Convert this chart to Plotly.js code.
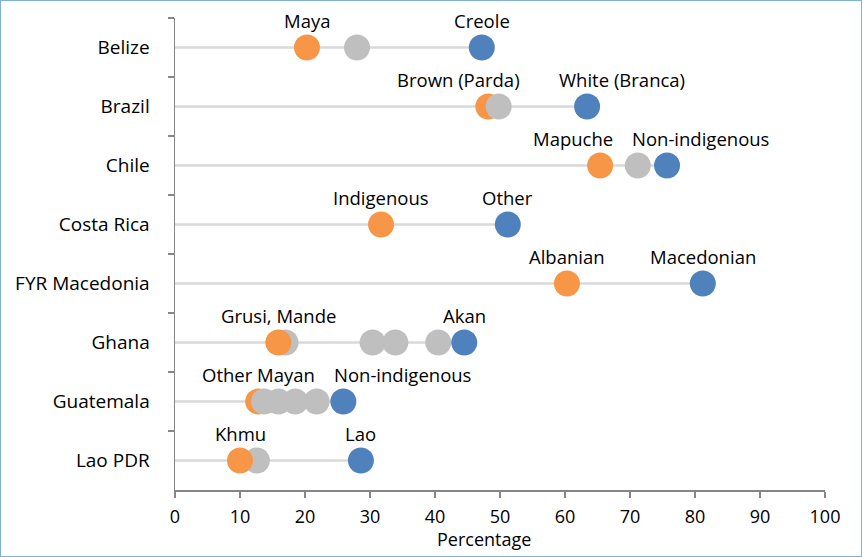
<!DOCTYPE html>
<html>
<head>
<meta charset="utf-8">
<script src="https://cdn.plot.ly/plotly-3.0.1.min.js"></script>
<style>
  html, body { margin: 0; padding: 0; background: #fff; }
  #chart { width: 860px; height: 555px; border: 1px solid #7fb0d8; }
</style>
</head>
<body>
<div id="chart"></div>
<script>
// ---- Data ----
const countries = ['Belize', 'Brazil', 'Chile', 'Costa Rica', 'FYR Macedonia', 'Ghana', 'Guatemala', 'Lao PDR'];
const lowGroup = ['Maya', 'Brown (Parda)', 'Mapuche', 'Indigenous', 'Albanian', 'Grusi, Mande', 'Other Mayan', 'Khmu'];
const lowValue = [20.3, 48.2, 65.4, 31.7, 60.3, 15.9, 12.8, 10.0];
const highGroup = ['Creole', 'White (Branca)', 'Non-indigenous', 'Other', 'Macedonian', 'Akan', 'Non-indigenous', 'Lao'];
const highValue = [47.2, 63.4, 75.7, 51.2, 81.2, 44.5, 25.9, 28.6];
// other (unlabelled) groups, split by whether they sit behind or in front of the orange dot
const otherValuesBehind = [[28.0], [], [71.2], [], [], [17.0, 30.4, 33.9, 40.5], [], [12.6]];
const otherValuesFront = [[], [49.8], [], [], [], [], [13.7, 15.9, 18.5, 21.8], []];
const xTicks = [0, 10, 20, 30, 40, 50, 60, 70, 80, 90, 100];
const xTitle = 'Percentage';

// ---- Styles ----
const COL_LOW = '#f79646', COL_HIGH = '#4f81bd', COL_OTHER = '#bfbfbf', COL_LINE = '#d9d9d9';
const MSIZE = 26;
const FONT = 'Open Sans, Noto Sans, sans-serif';
// horizontal pixel offsets for labels that were moved to avoid overlaps
const lowLabelShift = {'Brazil': -30, 'Chile': -27};
const highLabelShift = {'Brazil': 35, 'Chile': 33, 'Guatemala': 59};

// ---- Traces ----
const lineX = [], lineY = [];
countries.forEach((c, i) => {
  const all = [lowValue[i], highValue[i]].concat(otherValuesBehind[i], otherValuesFront[i]);
  lineX.push(0, Math.max(...all), null);
  lineY.push(c, c, null);
});

function flatten(arr) {
  const xs = [], ys = [];
  arr.forEach((vals, i) => vals.forEach(v => { xs.push(v); ys.push(countries[i]); }));
  return {x: xs, y: ys};
}
const behind = flatten(otherValuesBehind);
const front = flatten(otherValuesFront);

const marker = col => ({color: col, size: MSIZE, line: {width: 0}});

const traces = [
  {type: 'scatter', mode: 'lines', x: lineX, y: lineY, line: {color: COL_LINE, width: 2.5}, hoverinfo: 'skip'},
  {type: 'scatter', mode: 'markers', x: behind.x, y: behind.y, marker: marker(COL_OTHER)},
  {type: 'scatter', mode: 'markers', x: lowValue, y: countries, marker: marker(COL_LOW), text: lowGroup},
  {type: 'scatter', mode: 'markers', x: front.x, y: front.y, marker: marker(COL_OTHER)},
  {type: 'scatter', mode: 'markers', x: highValue, y: countries, marker: marker(COL_HIGH), text: highGroup}
];

const labelFont = {family: FONT, size: 18.5, color: '#000'};
const annotations = [];
countries.forEach((c, i) => {
  annotations.push({x: lowValue[i], y: c, text: lowGroup[i], showarrow: false,
    xshift: lowLabelShift[c] || 0, yshift: 27, yanchor: 'middle', xanchor: 'center', font: labelFont});
  annotations.push({x: highValue[i], y: c, text: highGroup[i], showarrow: false,
    xshift: highLabelShift[c] || 0, yshift: 27, yanchor: 'middle', xanchor: 'center', font: labelFont});
});
// x-axis title
annotations.push({xref: 'paper', yref: 'paper', x: 0.476, y: 0, yshift: -49, xanchor: 'center', yanchor: 'middle',
  text: xTitle, showarrow: false, borderpad: 0, font: {family: FONT, size: 18, color: '#000'}});

const layout = {
  width: 860, height: 555,
  margin: {l: 174, r: 36, t: 17, b: 66},
  paper_bgcolor: '#fff', plot_bgcolor: '#fff',
  showlegend: false,
  font: {family: FONT, size: 18, color: '#000'},
  xaxis: {
    range: [0, 100], tickvals: xTicks, ticktext: xTicks.map(String),
    showgrid: false, zeroline: false,
    showline: true, linecolor: '#868686', linewidth: 1.5,
    ticks: 'outside', ticklen: 6, tickcolor: '#868686', tickwidth: 1.5,
    ticklabelstandoff: 4,
    tickfont: {family: FONT, size: 18, color: '#000'}
  },
  yaxis: {
    type: 'category', categoryorder: 'array', categoryarray: countries,
    range: [countries.length - 0.5, -0.5],
    showgrid: false, zeroline: false,
    showline: true, linecolor: '#868686', linewidth: 1.5,
    ticks: 'outside', tickson: 'boundaries', ticklen: 6, tickcolor: '#868686', tickwidth: 1.5,
    ticklabelstandoff: 20,
    tickfont: {family: FONT, size: 19, color: '#000'}
  },
  annotations: annotations
};

Plotly.newPlot('chart', traces, layout, {displayModeBar: false, staticPlot: true});
</script>
</body>
</html>
